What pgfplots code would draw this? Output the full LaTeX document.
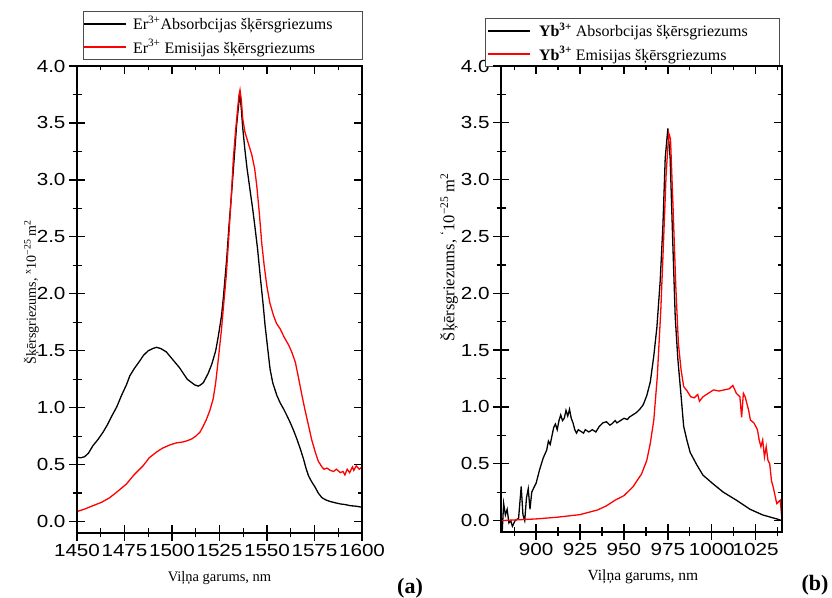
\documentclass[border=0pt]{standalone}
\usepackage{fontspec}
\usepackage{pgfplots}
\pgfplotsset{compat=1.18}
\setmainfont{Liberation Serif}
\newfontfamily\tickfont[FakeStretch=1.18]{Liberation Sans}

\pgfplotstableread{
x y
1450 0.565
1452 0.56
1454 0.57
1456 0.60
1458.4 0.667
1461 0.72
1463.7 0.785
1466 0.85
1468 0.917
1471 1.01
1473.4 1.107
1476 1.20
1477.8 1.28
1480 1.34
1483 1.41
1485 1.46
1487.5 1.50
1490 1.52
1491.8 1.53
1494 1.52
1497 1.49
1499 1.45
1501.5 1.40
1504 1.35
1506 1.30
1508 1.25
1510.4 1.22
1512 1.20
1513.8 1.19
1515 1.20
1516.5 1.22
1519 1.30
1521 1.385
1523 1.50
1524.4 1.63
1526 1.80
1527 1.96
1528.8 2.31
1530 2.60
1531.4 2.89
1533 3.25
1534 3.48
1535.2 3.68
1535.8 3.74
1536.5 3.62
1537.2 3.46
1538.4 3.26
1539.5 3.10
1541 2.92
1542.5 2.74
1543.7 2.58
1545 2.40
1546.4 2.16
1548 1.90
1549 1.72
1550.5 1.50
1551.6 1.34
1553 1.22
1555.2 1.107
1557 1.04
1558.7 0.99
1560.5 0.93
1562.2 0.87
1564 0.80
1565.7 0.726
1567.5 0.64
1569.2 0.55
1570.5 0.47
1571.9 0.40
1573.5 0.35
1575.4 0.30
1577 0.25
1578.9 0.21
1581 0.19
1583.3 0.176
1586 0.165
1588.6 0.155
1591 0.15
1593.8 0.14
1597 0.135
1600 0.126
}\ErAbs

\pgfplotstableread{
x y
1450 0.088
1454 0.11
1458.4 0.14
1463 0.17
1467.2 0.21
1471 0.26
1476 0.33
1480 0.41
1484.8 0.49
1488 0.56
1491.8 0.61
1495 0.645
1498.9 0.673
1502 0.69
1506 0.70
1508 0.71
1510.4 0.726
1512.5 0.75
1514.7 0.785
1516.5 0.84
1518.2 0.90
1520 0.98
1521.7 1.08
1523 1.22
1524.4 1.43
1526 1.68
1527 1.87
1528.5 2.15
1529.7 2.45
1531 2.80
1532.3 3.19
1533.4 3.42
1534.4 3.60
1535.2 3.74
1535.8 3.79
1536.5 3.70
1537.2 3.54
1538.4 3.42
1540 3.33
1542 3.22
1543.5 3.10
1544.6 2.95
1546 2.70
1547.2 2.45
1548.5 2.25
1549.9 2.07
1551.5 1.92
1553.4 1.81
1555 1.74
1557 1.69
1559 1.62
1561.4 1.55
1563 1.49
1564.9 1.40
1566.5 1.27
1568.4 1.107
1570 0.98
1571.9 0.84
1573.5 0.72
1575.4 0.61
1577 0.53
1578.9 0.48
1580 0.46
1581.5 0.47
1583.3 0.45
1585 0.44
1586.5 0.46
1588.6 0.43
1590 0.44
1591 0.41
1592.2 0.46
1593.5 0.43
1595 0.48
1595.7 0.45
1597 0.49
1598.5 0.46
1600 0.48
}\ErEm

\pgfplotstableread{
x y
880 0.0
880.7 -0.09
881.5 0.15
882.5 0.05
883.5 0.10
884.5 -0.02
885.5 0.0
886.5 -0.05
888 0.0
890 0.02
891.5 0.30
892.5 0.05
893.5 0.0
894.5 0.20
895.5 0.28
896.5 0.10
897.5 0.25
899 0.30
900 0.33
902 0.45
904 0.55
906 0.62
907 0.70
908 0.67
910 0.82
911 0.85
912 0.80
913 0.88
914 0.93
915 0.88
916 0.90
917 0.97
918 0.92
919 0.98
920 0.90
921 0.86
922 0.80
923 0.77
924 0.80
925 0.79
927 0.77
928 0.80
930 0.78
932 0.80
934 0.78
936 0.83
938 0.86
940 0.87
942 0.84
943 0.85
945 0.88
946 0.86
948 0.88
950 0.90
952 0.89
953 0.91
955 0.93
957 0.95
959 0.98
961 1.02
963 1.10
965 1.22
967 1.45
968.75 1.70
970.6 2.10
972.2 2.60
973.5 3.19
975 3.45
976.3 3.19
977.8 2.45
979.2 1.79
980.7 1.42
982.4 1.12
984 0.83
985.8 0.71
987.7 0.60
991.5 0.49
995 0.40
1001 0.32
1006.6 0.25
1014 0.18
1021.8 0.10
1029 0.05
1037 0.015
1040 0.0
}\YbAbs

\pgfplotstableread{
x y
880 0.0
900 0.015
912 0.03
925 0.053
935 0.094
940 0.13
945 0.18
950 0.22
955 0.295
960 0.41
963 0.53
965 0.68
967 0.885
969 1.27
971 1.86
972.5 2.44
974 3.04
975.5 3.41
976.5 3.36
978 2.74
979.5 2.07
981 1.56
982.5 1.33
984 1.18
986 1.14
988 1.09
990 1.08
992 1.11
993 1.05
995 1.09
998 1.12
1001 1.15
1004 1.14
1007 1.15
1010 1.16
1012 1.19
1014 1.12
1016 1.09
1017 0.91
1018 1.12
1019 1.09
1021 0.97
1022 0.885
1024 0.86
1025 0.83
1026 0.80
1027 0.71
1028 0.65
1029 0.71
1030 0.56
1031 0.65
1032 0.53
1033 0.50
1034 0.35
1035 0.295
1037 0.15
1039 0.18
1040 0.0
}\YbEm

\pgfplotsset{
  common/.style={
    scale only axis,
    ymin=-0.1, ymax=4.0,
    ytick={0,0.5,...,4.0},
    minor ytick={0.25,0.75,...,3.75},
    major tick length=8bp,
    minor tick length=4.5bp,
    axis line style={line width=1.3bp},
    tick style={line width=1.3bp, black},
    minor tick style={line width=1.3bp, black},
    /pgf/number format/assume math mode=true,
    ticklabel style={font=\tickfont\fontsize{17.5bp}{17.5bp}\selectfont},
    yticklabel style={/pgf/number format/fixed, /pgf/number format/fixed zerofill, /pgf/number format/precision=1},
    xticklabel style={/pgf/number format/set thousands separator={}},
    xlabel style={font=\fontsize{14.5bp}{16bp}\selectfont},
    legend cell align=left,
    legend image code/.code={\draw[#1, line width=1.6bp] (0bp,0bp) -- (42bp,0bp);},
  },
  main/.style={
    xtick pos=both, ytick pos=both, tick align=inside,
    xticklabel pos=left, yticklabel pos=left,
    xticklabel style={yshift=-8bp}, yticklabel style={xshift=-8bp},
  },
  outer/.style={
    xtick pos=left, ytick pos=left, tick align=outside,
    xticklabels={}, yticklabels={},
  },
}

\begin{document}
\begin{tikzpicture}[x=1bp,y=1bp]
\useasboundingbox (0,0) rectangle (832,598);

% ---- (a) ----
\begin{axis}[common, main,
  at={(77bp,65bp)}, anchor=south west,
  width=285bp, height=467bp,
  xmin=1450, xmax=1600,
  xtick={1450,1475,...,1600},
  minor xtick={1462.5,1487.5,...,1587.5},
  xlabel={Viļņa garums, nm},
  xlabel style={at={(axis description cs:0.5,-0.096)}, anchor=center},
  ylabel={Šķērsgriezums, \textsuperscript{x}10\textsuperscript{−25} m\textsuperscript{2}},
  ylabel style={font=\fontsize{14bp}{15bp}\selectfont, at={(axis description cs:-0.16,0.516)}, anchor=center},
  legend style={at={(axis description cs:0,1)}, anchor=south west, xshift=6bp, yshift=6bp,
    draw=black!70, line width=0.8bp, inner xsep=0bp, inner ysep=3bp,
    font=\fontsize{16bp}{18bp}\selectfont, row sep=4bp, column sep=6bp,
    nodes={inner xsep=0bp, inner ysep=2bp}},
]
\addplot[black, line width=1.3bp] table {\ErAbs};
\addlegendentry{\makebox[229bp][l]{Er\textsuperscript{3+}Absorbcijas šķērsgriezums}}
\addplot[red, line width=1.3bp] table {\ErEm};
\addlegendentry{\makebox[229bp][l]{Er\textsuperscript{3+} Emisijas šķērsgriezums}}
\end{axis}
\begin{axis}[common, outer,
  at={(77bp,65bp)}, anchor=south west,
  width=285bp, height=467bp,
  xmin=1450, xmax=1600,
  xtick={1450,1475,...,1600},
  minor xtick={1462.5,1487.5,...,1587.5},
]
\addplot[draw=none] table {\ErAbs};
\end{axis}
\node[font=\bfseries\fontsize{22bp}{24bp}\selectfont] at (410,10) {(a)};

% ---- (b) ----
\begin{axis}[common, main,
  at={(501bp,66bp)}, anchor=south west,
  width=281bp, height=466bp,
  xmin=880, xmax=1040,
  xtick={900,925,...,1025},
  minor xtick={887.5,912.5,...,1037.5},
  xlabel={Viļņa garums, nm},
  xlabel style={font=\fontsize{15.5bp}{17bp}\selectfont, at={(axis description cs:0.505,-0.097)}, anchor=center},
  ylabel={Šķērsgriezums, \textsuperscript{`}10\textsuperscript{−25} m\textsuperscript{2}},
  ylabel style={font=\fontsize{16.5bp}{18bp}\selectfont, at={(axis description cs:-0.185,0.59)}, anchor=center},
  legend style={at={(axis description cs:0,1)}, anchor=south west, xshift=-16bp, yshift=-1bp,
    draw=black!70, line width=0.8bp, inner xsep=2bp, inner ysep=3bp,
    font=\fontsize{16bp}{18bp}\selectfont, row sep=4bp, column sep=8bp,
    nodes={inner xsep=0bp, inner ysep=2bp}},
]
\addplot[black, line width=1.3bp] table {\YbAbs};
\addlegendentry{\makebox[238bp][l]{\textbf{Yb\textsuperscript{3+}} Absorbcijas šķērsgriezums}}
\addplot[red, line width=1.3bp] table {\YbEm};
\addlegendentry{\makebox[238bp][l]{\textbf{Yb\textsuperscript{3+}} Emisijas šķērsgriezums}}
\end{axis}
\begin{axis}[common, outer,
  at={(501bp,66bp)}, anchor=south west,
  width=281bp, height=466bp,
  xmin=880, xmax=1040,
  xtick={900,925,...,1025},
  minor xtick={887.5,912.5,...,1037.5},
]
\addplot[draw=none] table {\YbAbs};
\end{axis}
\node[font=\bfseries\fontsize{22bp}{24bp}\selectfont] at (815,13) {(b)};
\end{tikzpicture}
\end{document}
